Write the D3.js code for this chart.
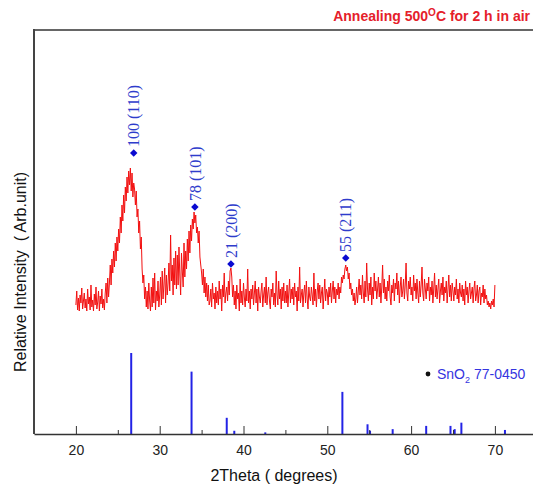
<!DOCTYPE html>
<html>
<head>
<meta charset="utf-8">
<script src="https://cdn.jsdelivr.net/npm/d3@7"></script>
<style>
body { margin: 0; background: #fff; }
</style>
</head>
<body>
<div id="chart"></div>
<script>
// XRD scan, 2theta from 20.0 to 70.0 in 0.1 degree steps (counts)
var scanStart = 20, scanStep = 0.1;
var counts = [
  8,22,3,15,2,18,10,25,4,12,
  20,5,14,2,24,9,16,3,28,6,
  13,2,19,8,26,4,11,22,2,17,
  9,24,5,14,3,20,30,10,35,16,
  30,48,28,54,40,62,46,70,52,76,
  62,84,70,96,80,108,92,118,100,126,
  112,136,120,142,128,145,122,140,116,130,
  124,108,122,96,104,80,92,64,76,44,
  30,38,14,26,6,22,4,30,12,2,
  26,6,35,10,40,3,22,12,32,6,
  18,36,8,42,14,28,45,10,38,18,
  30,50,22,78,32,48,18,55,28,62,
  24,58,28,66,38,18,60,42,26,70,
  36,62,44,74,52,82,60,88,72,94,
  84,101,90,98,80,86,70,82,56,48,
  40,28,44,20,36,16,30,12,28,8,
  12,24,6,30,14,20,4,26,10,22,
  8,32,14,24,2,28,16,40,10,20,
  26,12,32,18,42,45,36,16,28,8,
  22,4,28,14,20,2,34,10,22,8,
  30,16,6,24,12,44,10,22,4,24,
  14,28,8,20,32,10,24,2,26,16,
  10,22,30,6,18,26,10,36,8,20,
  26,12,4,24,16,30,8,20,6,42,
  18,8,32,14,24,4,26,12,30,10,
  22,10,28,6,20,34,10,24,14,26,
  8,30,16,22,2,26,12,46,10,18,
  24,6,20,28,10,32,14,4,26,16,
  12,26,18,8,40,12,24,6,22,30,
  14,28,10,20,26,4,18,34,12,24,
  20,8,26,16,30,10,22,32,14,26,
  10,24,18,30,14,26,20,36,30,38,
  34,44,48,42,46,34,40,24,30,18,
  24,12,20,8,14,26,10,22,34,18,
  28,14,38,20,10,32,16,50,24,12,
  30,18,36,8,26,14,40,22,32,14,
  24,36,16,30,10,26,48,20,34,14,
  26,12,32,22,38,16,8,28,20,34,
  12,30,24,40,18,32,10,26,36,16,
  22,34,14,28,50,20,12,32,24,36,
  18,26,12,38,22,30,14,34,20,10,
  32,16,28,46,20,12,34,24,14,30,
  22,36,12,26,18,32,10,24,40,16,
  28,14,24,34,10,22,30,18,36,12,
  26,20,32,10,24,38,16,28,12,30,
  22,12,26,18,34,14,24,10,30,20,
  16,28,12,24,8,32,18,26,10,22,
  30,14,20,26,10,24,32,12,18,28,
  10,22,26,8,20,16,28,10,24,14,
  18,8,12,6,10,4,12,8,14,6,
  28
];

// indexed peaks
var peakAngles = [26.9, 34.2, 38.5, 52.2];
var peakMarks = [160, 106, 49, 55];
var peakLabels = ["100 (110)", "78 (101)", "21 (200)", "55 (211)"];

// SnO2 JCPDS 77-0450 reference lines
var refAngles = [26.6, 33.8, 38.0, 38.9, 42.6, 51.8, 54.8, 55.1, 57.8, 61.8, 64.7, 65.2, 66.0, 71.2];
var refInts = [100, 77, 20, 4, 2, 52, 12, 4, 6, 10, 10, 6, 14, 5];

var majorTicks = [20, 30, 40, 50, 60, 70];
var minorTicks = [25, 35, 45, 55, 65, 75];

var sans = "'Liberation Sans', Arial, sans-serif";
var serif = "'Liberation Serif', 'Times New Roman', serif";

var svgWidth = 533;
var svgHeight = 486;
var plot = { left: 34, top: 30, bottom: 434 };

var svg = d3.select("#chart")
    .append("svg")
    .attr("width", svgWidth)
    .attr("height", svgHeight)
    .style("font-family", sans);

var xScale = d3.scaleLinear().domain([15, 75]).range([plot.left, plot.left + 60 * 8.38]);
var yScan = d3.scaleLinear().domain([0, 145]).range([313, 168]);
var yRef = d3.scaleLinear().domain([0, 100]).range([plot.bottom, 353]);

// frame: top and left
svg.append("line")
    .attr("x1", plot.left).attr("x2", svgWidth)
    .attr("y1", plot.top).attr("y2", plot.top)
    .attr("stroke", "#666").attr("stroke-width", 2);
svg.append("line")
    .attr("x1", plot.left).attr("x2", plot.left)
    .attr("y1", plot.top - 1).attr("y2", plot.bottom)
    .attr("stroke", "#444").attr("stroke-width", 2);

// reference bars
svg.append("g").selectAll("line")
    .data(refAngles)
    .enter()
    .append("line")
    .attr("x1", d => xScale(d)).attr("x2", d => xScale(d))
    .attr("y1", yRef(0))
    .attr("y2", (d, i) => yRef(refInts[i]))
    .attr("stroke", "#2323e6")
    .attr("stroke-width", 2);

// axes
var bottomAxis = d3.axisBottom(xScale)
    .tickValues(majorTicks)
    .tickSize(-8)
    .tickSizeOuter(0)
    .tickPadding(11)
    .tickFormat(d3.format("d"));
var minorAxis = d3.axisBottom(xScale)
    .tickValues(minorTicks)
    .tickSize(-4)
    .tickSizeOuter(0)
    .tickFormat("");

var gMinor = svg.append("g")
    .attr("transform", `translate(0, ${plot.bottom})`)
    .call(minorAxis);
gMinor.select(".domain").remove();
gMinor.selectAll("line").attr("stroke", "#333");

var gx = svg.append("g")
    .attr("transform", `translate(0, ${plot.bottom})`)
    .call(bottomAxis);
gx.select(".domain").attr("stroke", "#333").attr("stroke-width", 1.6);
gx.selectAll("line").attr("stroke", "#333");
gx.selectAll("text")
    .attr("font-family", sans)
    .attr("font-size", 14)
    .attr("fill", "#222");

// scan line
var scanLine = d3.line()
    .x((d, i) => xScale(scanStart + i * scanStep))
    .y(d => yScan(d));
svg.append("path")
    .datum(counts)
    .attr("d", scanLine)
    .attr("fill", "none")
    .attr("stroke", "#f21010")
    .attr("stroke-width", 1);

// peak markers and labels
svg.append("g").selectAll("path")
    .data(peakAngles)
    .enter()
    .append("path")
    .attr("d", d3.symbol(d3.symbolSquare, 28))
    .attr("transform", (d, i) => `translate(${xScale(d)}, ${yScan(peakMarks[i])}) rotate(45)`)
    .attr("fill", "#0a0ad0");

svg.append("g").selectAll("text")
    .data(peakAngles)
    .enter()
    .append("text")
    .attr("transform", (d, i) => `translate(${xScale(d)}, ${yScan(peakMarks[i]) - 6}) rotate(-90)`)
    .attr("dy", "0.35em")
    .style("font-family", serif)
    .attr("font-size", 16)
    .attr("fill", "#2e3ccc")
    .style("white-space", "pre")
    .text((d, i) => peakLabels[i]);

// title
var title = svg.append("text")
    .attr("x", 530)
    .attr("y", 21)
    .attr("text-anchor", "end")
    .attr("font-size", 14)
    .attr("font-weight", "bold")
    .attr("fill", "#e5202a");
title.append("tspan").text("Annealing 500");
title.append("tspan").attr("font-size", 10).attr("dy", -5).text("O");
title.append("tspan").attr("dy", 5).text("C for 2 h in air");

// legend
svg.append("circle")
    .attr("cx", 428).attr("cy", 374).attr("r", 2.4)
    .attr("fill", "#111");
var legend = svg.append("text")
    .attr("x", 437)
    .attr("y", 379)
    .attr("font-size", 14)
    .attr("fill", "#3434e0");
legend.append("tspan").text("SnO");
legend.append("tspan").attr("font-size", 9).attr("dy", 4).text("2");
legend.append("tspan").attr("dy", -4).text(" 77-0450");

// axis labels
svg.append("text")
    .attr("transform", "translate(26, 272) rotate(-90)")
    .attr("text-anchor", "middle")
    .attr("font-size", 16)
    .attr("fill", "#111")
    .style("white-space", "pre")
    .text("Relative Intensity  ( Arb.unit)");
svg.append("text")
    .attr("x", 274)
    .attr("y", 481)
    .attr("text-anchor", "middle")
    .attr("font-size", 16)
    .attr("fill", "#111")
    .style("white-space", "pre")
    .text("2Theta ( degrees)");
</script>
</body>
</html>
